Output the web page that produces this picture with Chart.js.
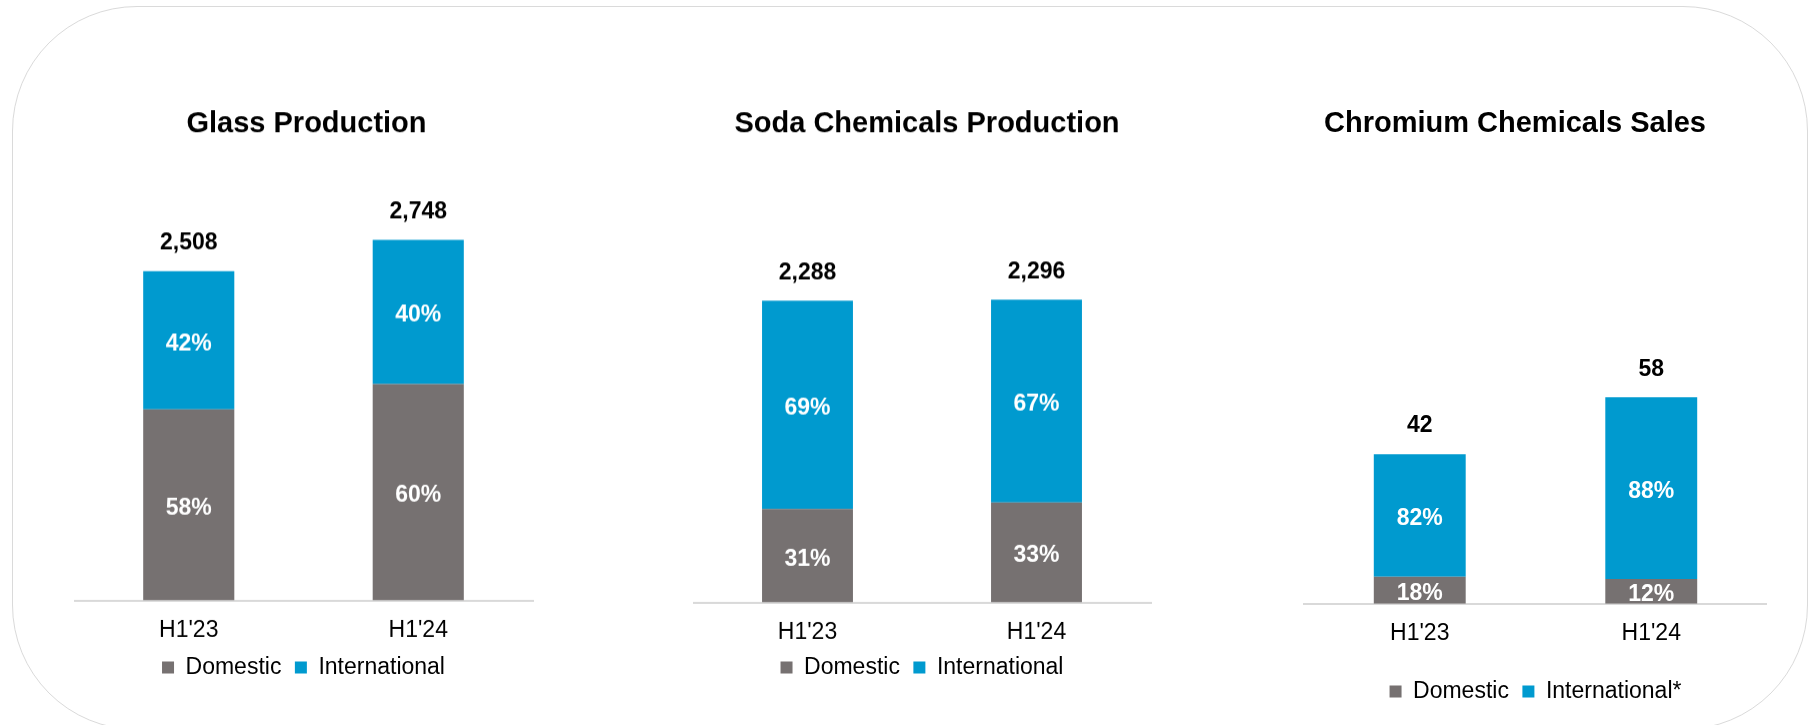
<!DOCTYPE html>
<html>
<head>
<meta charset="utf-8">
<script src="https://cdn.jsdelivr.net/npm/chart.js@4.4.1/dist/chart.umd.min.js"></script>
<style>
html,body{margin:0;padding:0;background:#ffffff;width:1809px;height:725px;overflow:hidden;}
#frame{position:absolute;left:12px;top:6px;width:1796px;height:724px;border:1.5px solid #dadada;border-radius:125px;box-sizing:border-box;}
canvas{position:absolute;top:0;}
</style>
</head>
<body>
<div id="frame"></div>
<canvas id="glass"></canvas>
<canvas id="soda"></canvas>
<canvas id="chromium"></canvas>
<script>
// ---- data ----
const categories = ["H1'23", "H1'24"];
const seriesNames = ["Domestic", "International"];
const chromiumSeriesNames = ["Domestic", "International*"];

const glassTotals = [2508, 2748];
const glassDomestic = [1455, 1649];
const glassInternational = [1053, 1099];
const glassDomesticPct = [58, 60];
const glassInternationalPct = [42, 40];

const sodaTotals = [2288, 2296];
const sodaDomestic = [709, 758];
const sodaInternational = [1579, 1538];
const sodaDomesticPct = [31, 33];
const sodaInternationalPct = [69, 67];

const chromiumTotals = [42, 58];
const chromiumDomestic = [7.56, 6.96];
const chromiumInternational = [34.44, 51.04];
const chromiumDomesticPct = [18, 12];
const chromiumInternationalPct = [82, 88];

// ---- style ----
const FONT = '"Liberation Sans", Arial, Helvetica, sans-serif';
const GREY = '#767171';
const BLUE = '#009ACF';
Chart.defaults.font.family = FONT;
Chart.defaults.color = '#000';

const LABEL_SIZE = 23;
const HALF_CAP = LABEL_SIZE * 0.716 / 2;

const barLabels = {
  id: 'barLabels',
  afterDatasetsDraw(chart) {
    const cfg = chart.options.plugins.barLabels;
    const ctx = chart.ctx;
    ctx.save();
    ctx.textAlign = 'center';
    ctx.textBaseline = 'alphabetic';
    ctx.font = 'bold ' + LABEL_SIZE + 'px ' + FONT;
    chart.data.datasets.forEach((ds, di) => {
      const meta = chart.getDatasetMeta(di);
      meta.data.forEach((bar, i) => {
        const p = bar.getProps(['x', 'y', 'base'], true);
        ctx.fillStyle = '#ffffff';
        ctx.fillText(cfg.pct[di][i] + '%', p.x, (p.y + p.base) / 2 + 1.5 + HALF_CAP);
      });
    });
    const top = chart.getDatasetMeta(chart.data.datasets.length - 1);
    top.data.forEach((bar, i) => {
      const p = bar.getProps(['x', 'y'], true);
      ctx.fillStyle = '#000000';
      ctx.fillText(cfg.totals[i].toLocaleString('en-US'), p.x, p.y - 30 + HALF_CAP);
    });
    ctx.restore();
  }
};

function makeChart(id, spec) {
  const cv = document.getElementById(id);
  cv.width = spec.width;
  cv.height = spec.height;
  cv.style.left = spec.left + 'px';
  cv.style.width = spec.width + 'px';
  cv.style.height = spec.height + 'px';
  return new Chart(cv, {
    type: 'bar',
    data: {
      labels: categories,
      datasets: [
        { label: spec.names[0], data: spec.domestic, backgroundColor: GREY, borderWidth: 0 },
        { label: spec.names[1], data: spec.international, backgroundColor: BLUE, borderWidth: 0 }
      ]
    },
    options: {
      responsive: false,
      animation: false,
      devicePixelRatio: 1,
      layout: { padding: 0 },
      datasets: { bar: { barPercentage: 0.397, categoryPercentage: 1.0 } },
      scales: {
        x: {
          stacked: true,
          grid: { display: false, drawTicks: false, tickLength: 0 },
          border: { display: true, color: '#d9d9d9', width: 2 },
          ticks: { font: { size: 23, lineHeight: 1.0 }, color: '#000', padding: 18.5 },
          afterFit: (s) => { s.height = spec.xAxisHeight; }
        },
        y: {
          stacked: true,
          position: spec.gutterSide,
          min: 0,
          max: spec.yMax,
          grid: { display: false, drawTicks: false },
          border: { display: false },
          ticks: { display: false },
          afterFit: (s) => { s.width = spec.gutter; }
        }
      },
      plugins: {
        title: {
          display: true,
          text: spec.title,
          font: { size: 29, weight: 'bold', lineHeight: 1.2 },
          color: '#000',
          padding: { top: 106.1, bottom: 9.1 }
        },
        legend: {
          display: true,
          position: 'bottom',
          fullSize: false,
          labels: { boxWidth: 12, boxHeight: 12, padding: 13.5, font: { size: 23 }, color: '#000' }
        },
        tooltip: { enabled: false },
        barLabels: { totals: spec.totals, pct: [spec.domPct, spec.intPct] }
      }
    },
    plugins: [barLabels]
  });
}

makeChart('glass', {
  left: 74, width: 465, height: 688.5, xAxisHeight: 42, gutter: 6, gutterSide: 'right', yMax: 3430,
  title: 'Glass Production', names: seriesNames,
  domestic: glassDomestic, international: glassInternational,
  totals: glassTotals, domPct: glassDomesticPct, intPct: glassInternationalPct
});
makeChart('soda', {
  left: 693, width: 468, height: 688.5, xAxisHeight: 40, gutter: 10, gutterSide: 'right', yMax: 3430,
  title: 'Soda Chemicals Production', names: seriesNames,
  domestic: sodaDomestic, international: sodaInternational,
  totals: sodaTotals, domPct: sodaDomesticPct, intPct: sodaInternationalPct
});
makeChart('chromium', {
  left: 1263, width: 504, height: 713.3, xAxisHeight: 62.8, gutter: 41, gutterSide: 'left', yMax: 127.5,
  title: 'Chromium Chemicals Sales', names: chromiumSeriesNames,
  domestic: chromiumDomestic, international: chromiumInternational,
  totals: chromiumTotals, domPct: chromiumDomesticPct, intPct: chromiumInternationalPct
});
</script>
</body>
</html>
